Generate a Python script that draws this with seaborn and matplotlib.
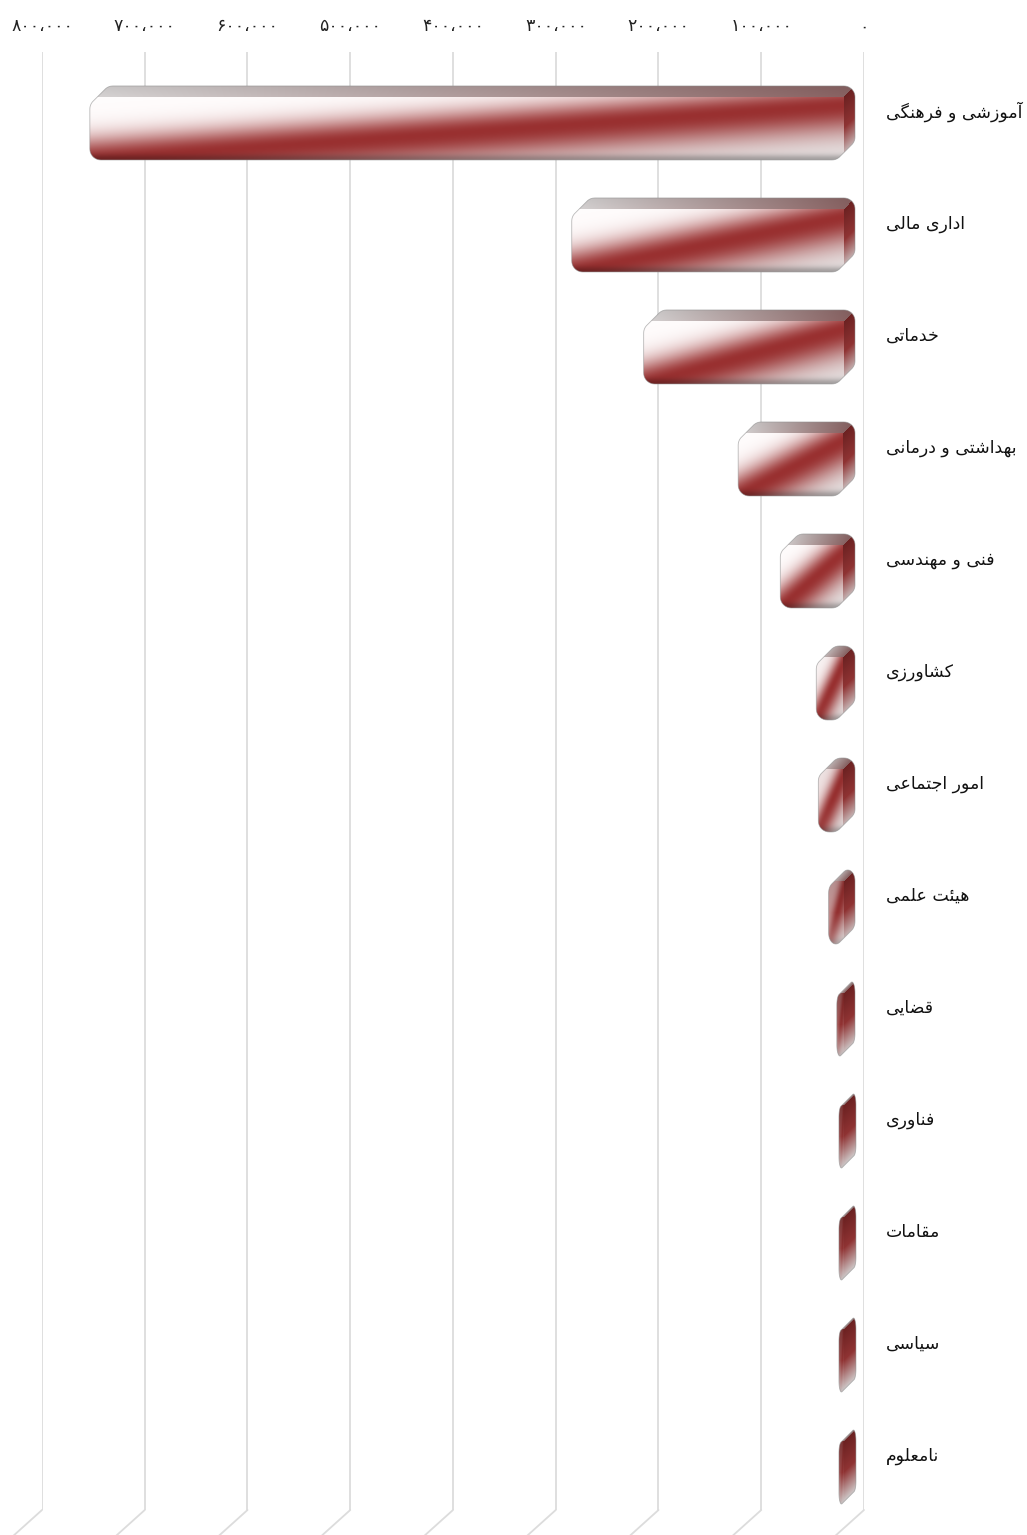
import numpy as np
import matplotlib
matplotlib.use("Agg")
import matplotlib.pyplot as plt
import seaborn as sns
from matplotlib.path import Path
from matplotlib.patches import PathPatch
from matplotlib.transforms import ScaledTranslation

categories = ["آموزشی و فرهنگی", "اداری مالی", "خدماتی", "بهداشتی و درمانی",
              "فنی و مهندسی", "کشاورزی", "امور اجتماعی", "هیئت علمی",
              "قضایی", "فناوری", "مقامات", "سیاسی", "نامعلوم"]
values = [733000, 264000, 194000, 102000, 61000, 26000, 24000, 14000,
          6000, 3000, 3000, 3000, 3000]
xticks = [0, 100000, 200000, 300000, 400000, 500000, 600000, 700000, 800000]

# arabic/persian letters -> (isolated, final, initial, medial)
FORMS = {
    "\u0622": ("\uFE81", "\uFE82", None, None),
    "\u0626": ("\uFE89", "\uFE8A", "\uFE8B", "\uFE8C"),
    "\u0627": ("\uFE8D", "\uFE8E", None, None),
    "\u0628": ("\uFE8F", "\uFE90", "\uFE91", "\uFE92"),
    "\u062A": ("\uFE95", "\uFE96", "\uFE97", "\uFE98"),
    "\u062C": ("\uFE9D", "\uFE9E", "\uFE9F", "\uFEA0"),
    "\u062E": ("\uFEA5", "\uFEA6", "\uFEA7", "\uFEA8"),
    "\u062F": ("\uFEA9", "\uFEAA", None, None),
    "\u0631": ("\uFEAD", "\uFEAE", None, None),
    "\u0632": ("\uFEAF", "\uFEB0", None, None),
    "\u0633": ("\uFEB1", "\uFEB2", "\uFEB3", "\uFEB4"),
    "\u0634": ("\uFEB5", "\uFEB6", "\uFEB7", "\uFEB8"),
    "\u0636": ("\uFEBD", "\uFEBE", "\uFEBF", "\uFEC0"),
    "\u0639": ("\uFEC9", "\uFECA", "\uFECB", "\uFECC"),
    "\u0641": ("\uFED1", "\uFED2", "\uFED3", "\uFED4"),
    "\u0642": ("\uFED5", "\uFED6", "\uFED7", "\uFED8"),
    "\u0644": ("\uFEDD", "\uFEDE", "\uFEDF", "\uFEE0"),
    "\u0645": ("\uFEE1", "\uFEE2", "\uFEE3", "\uFEE4"),
    "\u0646": ("\uFEE5", "\uFEE6", "\uFEE7", "\uFEE8"),
    "\u0647": ("\uFEE9", "\uFEEA", "\uFEEB", "\uFEEC"),
    "\u0648": ("\uFEED", "\uFEEE", None, None),
    "\u06A9": ("\uFB8E", "\uFB8F", "\uFB90", "\uFB91"),
    "\u06AF": ("\uFB92", "\uFB93", "\uFB94", "\uFB95"),
    "\u06CC": ("\uFBFC", "\uFBFD", "\uFBFE", "\uFBFF"),
}


def shape(s):
    # join letters and put them in visual (left to right) order
    out = []
    for i, ch in enumerate(s):
        f = FORMS.get(ch)
        if f is None:
            out.append(ch)
            continue
        prev = s[i - 1] if i > 0 else ""
        nxt = s[i + 1] if i + 1 < len(s) else ""
        jp = prev in FORMS and FORMS[prev][2] is not None
        jn = f[2] is not None and nxt in FORMS
        if jp and jn:
            out.append(f[3])
        elif jp:
            out.append(f[1])
        elif jn:
            out.append(f[2])
        else:
            out.append(f[0])
    return "".join(reversed(out))


def fa_num(n):
    s = f"{n:,}".replace(",", "\u060C")
    return s.translate(str.maketrans("0123456789", "۰۱۲۳۴۵۶۷۸۹"))


def hull(pts):
    pts = sorted(set(pts))
    def cross(o, a, b):
        return (a[0] - o[0]) * (b[1] - o[1]) - (a[1] - o[1]) * (b[0] - o[0])
    lower, upper = [], []
    for p in pts:
        while len(lower) >= 2 and cross(lower[-2], lower[-1], p) <= 0:
            lower.pop()
        lower.append(p)
    for p in reversed(pts):
        while len(upper) >= 2 and cross(upper[-2], upper[-1], p) <= 0:
            upper.pop()
        upper.append(p)
    return lower[:-1] + upper[:-1]


def rrect(L, R, B, T, rx, ry, n=10):
    cl, cr = L + rx, R - rx
    if cl > cr:
        cl = cr = (L + R) / 2
    pts = []
    for cx, cy, a0, a1 in [(cr, T - ry, 0, 90), (cl, T - ry, 90, 180),
                           (cl, B + ry, 180, 270), (cr, B + ry, 270, 360)]:
        for a in np.radians(np.linspace(a0, a1, n)):
            pts.append((round(cx + rx * np.cos(a), 3), round(cy + ry * np.sin(a), 3)))
    return pts


def lerp(c0, c1, t):
    t = np.clip(t, 0, 1)[..., None]
    return np.array(c0) * (1 - t) + np.array(c1) * t


def side_colors(b):
    return np.where((b < 0.5)[..., None],
                    lerp((0.82, 0.81, 0.81), (0.56, 0.20, 0.20), b / 0.5),
                    lerp((0.56, 0.20, 0.20), (0.42, 0.13, 0.13), (b - 0.5) / 0.5))


W, H = 1027, 1535
sns.set_style("white")
plt.rcParams["font.family"] = ["DejaVu Sans"]

fig = plt.figure(figsize=(W / 100, H / 100), dpi=100)
ax = fig.add_axes([42 / W, 1 - 1510 / H, 822 / W, (1510 - 52) / H])

sns.barplot(x=values, y=categories, orient="h", width=62 / 112, ax=ax, color="#963030")
ax.set_autoscale_on(False)
ax.set_xlim(800000, 0)
ax.set_ylim(12.4375, -0.580)

ax.set_xticks(xticks, [fa_num(t) for t in xticks])
ax.set_yticks(range(len(categories)), [shape(c) for c in categories])
ax.xaxis.tick_top()
ax.yaxis.tick_right()
ax.tick_params(axis="x", length=0, pad=12, labelsize=12.5, colors="#222222")
ax.tick_params(axis="y", length=0, pad=16, labelsize=12.5, colors="#111111")
lift = ScaledTranslation(0, 7 / 100, fig.dpi_scale_trans)
for lbl in ax.get_yticklabels():
    lbl.set_transform(lbl.get_transform() + lift)
ax.set_xlabel("")
ax.set_ylabel("")
ax.grid(axis="x", color="#dcdcdc", lw=1.3)
ax.grid(axis="y", visible=False)
ax.set_axisbelow(True)
for sp in ax.spines.values():
    sp.set_visible(False)

inv = ax.transData.inverted()

# floor part of the grid lines
y_bot = ax.get_ylim()[0]
for t in xticks:
    p0 = ax.transData.transform((t, y_bot))
    p1 = p0 + np.array([-30, -27])
    d0, d1 = inv.transform(p0), inv.transform(p1)
    ax.plot([d0[0], d1[0]], [d0[1], d1[1]], color="#dcdcdc", lw=1.3,
            clip_on=False, zorder=0.5)

# 3d glossy bars built from the seaborn bar geometry
DX, DY = 12, 12          # depth of the bars in pixels
WALL = (-21, -12)        # bars stand in front of the grid wall
red = (0.60, 0.19, 0.19)
for p in ax.patches:
    p.set_visible(False)
    val = p.get_width()
    yc = p.get_y() + p.get_height() / 2
    h = p.get_height()
    xr_px, yc_px = ax.transData.transform((p.get_x(), yc))
    xl_px = ax.transData.transform((p.get_x() + val, yc))[0]
    hp = abs(ax.transData.transform((0, yc - h / 2))[1]
             - ax.transData.transform((0, yc + h / 2))[1])
    L, R = xl_px + WALL[0], xr_px + WALL[0]
    B = yc_px + WALL[1] - hp / 2
    T = yc_px + WALL[1] + hp / 2

    rx = min(11, max((R - L) / 2, 2.5))
    pts = rrect(L, R, B, T, rx, 11) + rrect(L + DX, R + DX, B + DY, T + DY, rx, 11)
    sil = hull(pts)

    Lb, Rb, Bb, Tb = L - 5, R + DX + 1, B, T + DY + 1
    nx, ny = int(Rb - Lb) + 1, int(Tb - Bb) + 1
    xs = np.linspace(Lb, Rb, nx)[None, :]
    ys = np.linspace(Bb, Tb, ny)[:, None]
    xs, ys = np.broadcast_arrays(xs, ys)

    # front face
    u = (xs - L) / max(R - L, 1)
    v = (ys - B) / (T - B)
    d = v - (0.0 + 0.88 * u)
    w = np.where(d > 0, np.exp(-(d / 0.36) ** 2), np.exp(-(d / 0.45) ** 2))
    base = np.where((d > 0)[..., None], np.array([1.0, 0.99, 0.99]),
                    np.array([0.91, 0.90, 0.90]))
    img = base * (1 - w[..., None]) + np.array(red) * w[..., None]
    img = img * (1 - 0.28 * np.exp(-(v / 0.08) ** 2))[..., None]
    # very short bars look like their end cap
    k = np.clip(1 - (R - L) / 28, 0, 1)
    img = img * (1 - k) + side_colors(v) * k

    # side face (value 0 end)
    a_s = (xs - R) / DX
    b_s = (ys - B - a_s * DY) / (T - B)
    side = (a_s >= 0) & (b_s <= 1.0001)
    img = np.where(side[..., None], side_colors(b_s), img)

    # top face
    a_t = (ys - T) / DY
    b_t = (xs - L - a_t * DX) / max(R - L, 1)
    top = (a_t >= 0) & ~side
    top_col = lerp((0.78, 0.77, 0.77), (0.50, 0.36, 0.36), b_t)
    top_col = top_col * (1 + 0.08 * (1 - a_t))[..., None]
    img = np.where(top[..., None], np.clip(top_col, 0, 1), img)

    (exl, eyb), (exr, eyt) = inv.transform((Lb, Bb)), inv.transform((Rb, Tb))
    im = ax.imshow(img, extent=(exl, exr, eyb, eyt), origin="lower",
                   aspect="auto", interpolation="bilinear", zorder=3)
    path = Path(inv.transform(np.array(sil + [sil[0]])), closed=True)
    clip = PathPatch(path, transform=ax.transData, facecolor="none",
                     edgecolor=(0.55, 0.55, 0.55, 0.6), lw=0.6, zorder=4)
    ax.add_patch(clip)
    im.set_clip_path(clip)

ax.set_xlim(800000, 0)
ax.set_ylim(12.4375, -0.580)

fig.savefig("out.png", dpi=100, facecolor="white")
